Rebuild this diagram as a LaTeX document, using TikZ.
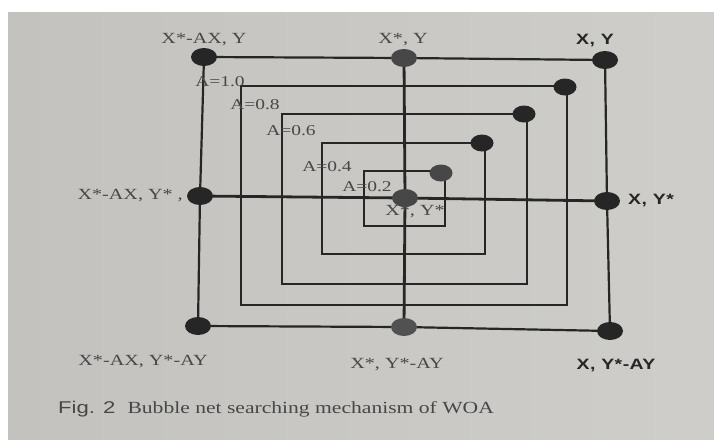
\documentclass[tikz,border=0pt]{standalone}
\usepackage{fontspec}
\usetikzlibrary{shapes.geometric}
\setmainfont{Liberation Serif}
\newfontfamily\wserif[FakeStretch=1.3]{Liberation Serif}
\newfontfamily\cserif[FakeStretch=1.27]{Liberation Serif}
\newfontfamily\wsans[FakeStretch=1.3]{Liberation Sans}
\newfontfamily\wsansb[FakeStretch=1.3,LetterSpace=3]{Liberation Sans Bold}
\definecolor{paper}{RGB}{201,200,196}
\definecolor{ink}{RGB}{38,38,38}
\begin{document}
\begin{tikzpicture}[x=1pt,y=-1pt,
  dot/.style={ellipse,fill=ink,inner sep=0pt,minimum width=26pt,minimum height=18pt},
  sdot/.style={ellipse,fill=ink,inner sep=0pt,minimum width=23pt,minimum height=17pt},
  outerline/.style={draw=ink,line width=2.2pt},
  crossline/.style={draw=ink,line width=2.8pt},
  rectline/.style={draw=ink,line width=1.7pt},
  lab/.style={font=\wserif\fontsize{15.5}{16}\selectfont,text=ink!85,inner sep=0pt},
  blab/.style={font=\wsansb\fontsize{15}{16}\selectfont,text=ink,inner sep=0pt},
  alab/.style={font=\wserif\fontsize{15}{16}\selectfont,text=ink!85,inner sep=0pt}
]
\useasboundingbox (0,0) rectangle (714,439);
\fill[white] (0,0) rectangle (714,439);
\shade[left color=paper!97!black,right color=paper!90!white] (8,12) rectangle (714,439);

% outer grid coordinates
\coordinate (TL) at (204,57);
\coordinate (TM) at (404,58);
\coordinate (TR) at (605,60);
\coordinate (ML) at (200,196);
\coordinate (C)  at (405,198);
\coordinate (MR) at (607,201);
\coordinate (BL) at (198,326);
\coordinate (BM) at (404,327);
\coordinate (BR) at (610,331);

% nested rectangles
\foreach \n/\l/\t/\r/\b in {1/241/86/567/305, 2/282/114/527/284, 3/322/143/485/254, 4/364/171/445/226}{
  \coordinate (r\n tl) at (\l,\t);
  \coordinate (r\n tr) at (\r,\t);
  \coordinate (r\n br) at (\r,\b);
  \coordinate (r\n bl) at (\l,\b);
  \draw[rectline] (r\n tl) -- (r\n tr) -- (r\n br) -- (r\n bl) -- cycle;
}

% outer square and cross
\draw[outerline] (TL) -- (TM) -- (TR) -- (MR) -- (BR) -- (BM) -- (BL) -- (ML) -- cycle;
\draw[crossline] (ML) -- (C) -- (MR);
\draw[crossline] (TM) -- (C) -- (BM);

% dots
\node[dot] (dTL) at (TL) {};
\node[dot,fill=ink!85] (dTM) at (TM) {};
\node[dot] (dTR) at (TR) {};
\node[dot] (dML) at (ML) {};
\node[dot,fill=ink!85] (dC) at (C) {};
\node[dot] (dMR) at (MR) {};
\node[dot] (dBL) at (BL) {};
\node[dot,fill=ink!80] (dBM) at (BM) {};
\node[dot] (dBR) at (BR) {};
\node[sdot] (d1) at (565,87) {};
\node[sdot] (d2) at (524,114) {};
\node[sdot] (d3) at (482,143) {};
\node[sdot,fill=ink!85] (d4) at (441,173) {};

% corner labels
\node[lab] (lTL) at (204,40) {X*-AX, Y};
\node[lab] (lTM) at (403,40) {X*, Y};
\node[blab] (lTR) at (595,41) {X, Y};
\node[lab,anchor=east] (lML) at (183,196) {X*-AX, Y* ,};
\node[blab,anchor=west] (lMR) at (628,200) {X, Y*};
\node[lab] (lBL) at (143,362) {X*-AX, Y*-AY};
\node[lab] (lBM) at (397,365) {X*, Y*-AY};
\node[blab] (lBR) at (616,365) {X, Y*-AY};
\node[lab] (lC) at (415,212) {X*, Y*};

% A labels
\node[alab] (a1) at (220,82) {A=1.0};
\node[alab] (a2) at (255,105) {A=0.8};
\node[alab] (a3) at (291,131) {A=0.6};
\node[alab] (a4) at (327,167) {A=0.4};
\node[alab] (a5) at (367,187) {A=0.2};

% caption
\node[anchor=base west,inner sep=0pt,text=ink!85] (cap) at (58,413)
  {{\wsans\fontsize{17}{18}\selectfont Fig. 2}\hspace{12pt}{\cserif\fontsize{17}{18}\selectfont Bubble net searching mechanism of WOA}};
\end{tikzpicture}
\end{document}
